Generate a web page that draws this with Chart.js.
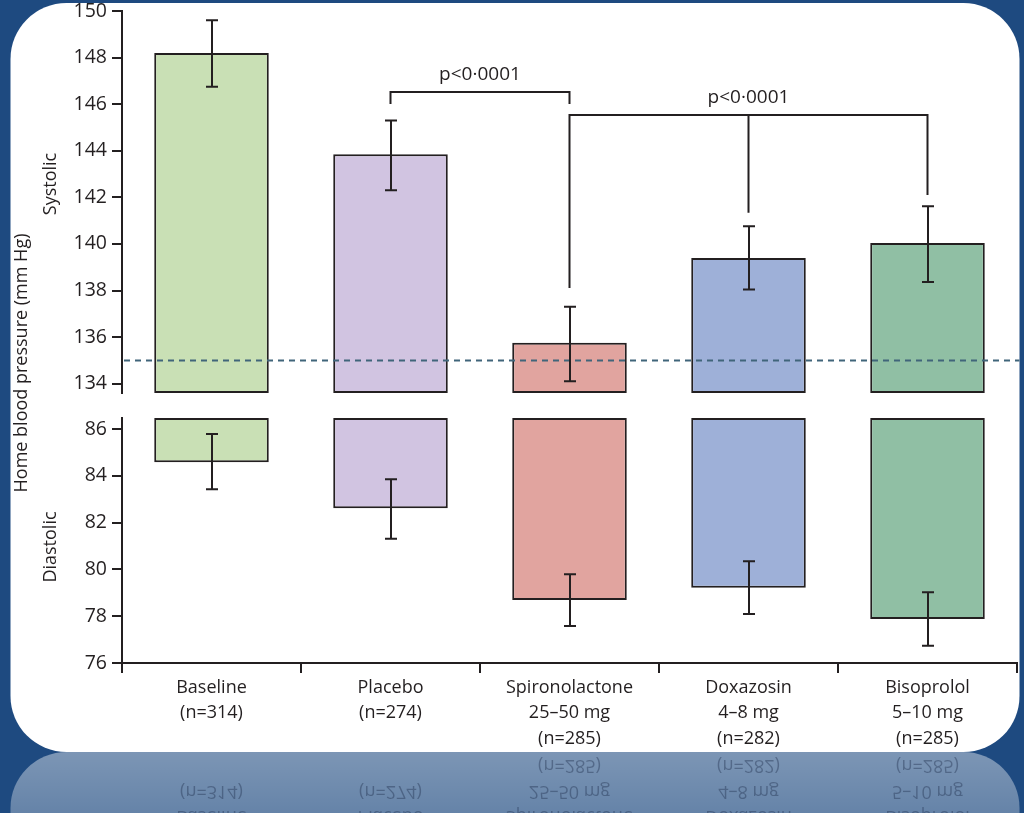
<!DOCTYPE html>
<html>
<head>
<meta charset="utf-8">
<script src="https://cdn.jsdelivr.net/npm/chart.js@4.4.1/dist/chart.umd.min.js"></script>
<style>
html,body{margin:0;padding:0;background:#1e4a80;overflow:hidden}
#wrap{position:relative;width:1024px;height:813px}
canvas{display:block}
</style>
</head>
<body>
<div id="wrap"><canvas id="c" width="1024" height="813"></canvas></div>
<script>
// ---------- data ----------
const categories = [
  ['Baseline', '(n=314)'],
  ['Placebo', '(n=274)'],
  ['Spironolactone', '25–50 mg', '(n=285)'],
  ['Doxazosin', '4–8 mg', '(n=282)'],
  ['Bisoprolol', '5–10 mg', '(n=285)']
];
const systolic      = [148.2, 143.85, 135.76, 139.4, 140.04];
const systolicLow   = [146.75, 142.3, 134.1, 138.04, 138.37];
const systolicHigh  = [149.6, 145.3, 137.3, 140.76, 141.62];
const diastolic     = [84.58, 82.61, 78.69, 79.22, 77.88];
const diastolicLow  = [83.42, 81.31, 77.58, 78.09, 76.74];
const diastolicHigh = [85.79, 83.85, 79.79, 80.35, 79.02];
const systolicRange  = [133.6, 150];
const diastolicRange = [76, 86.47];
const tickStep = 2;
const targetSystolic = 135;
const pLabel = 'p<0·0001';
// comparison brackets: category indices and systolic-scale levels
const bracket1 = { idx: [1, 2], level: 146.52, ends: [146.05, 146.05], labelAt: 1.5 };
const bracket2 = { idx: [2, 3, 4], level: 145.53, ends: [138.15, 141.38, 142.14], labelAt: 3 };

const barColors = ['#c9e0b5', '#d1c4e1', '#e1a49f', '#9eb0d8', '#90bfa4'];
const ink = '#231f20';
const FAMILY = "'Open Sans', 'DejaVu Sans', sans-serif";
Chart.defaults.font.family = FAMILY;
Chart.defaults.font.size = 18;
Chart.defaults.color = ink;

const X_TICK_LEN = 10, X_TICK_PAD = 2, X_FONT = 18, X_LH = 1.42;
const Y_FONT = 19.5;
const PANEL = { x: 10.5, y: 3, w: 1009, h: 749, r: 56 };

function roundRectPath(ctx, x, y, w, h, r) {
  ctx.beginPath();
  ctx.moveTo(x + r, y);
  ctx.lineTo(x + w - r, y);
  ctx.arcTo(x + w, y, x + w, y + r, r);
  ctx.lineTo(x + w, y + h - r);
  ctx.arcTo(x + w, y + h, x + w - r, y + h, r);
  ctx.lineTo(x + r, y + h);
  ctx.arcTo(x, y + h, x, y + h - r, r);
  ctx.lineTo(x, y + r);
  ctx.arcTo(x, y, x + r, y, r);
  ctx.closePath();
}

const backgroundPlugin = {
  id: 'bg',
  beforeDraw(chart) {
    const ctx = chart.ctx;
    ctx.save();
    ctx.fillStyle = '#1e4a80';
    ctx.fillRect(0, 0, chart.width, chart.height);
    // reflection of the panel
    const by = PANEL.y + PANEL.h;
    ctx.save();
    ctx.translate(0, 2 * by);
    ctx.scale(1, -1);
    const g = ctx.createLinearGradient(0, by, 0, by - 70);
    g.addColorStop(0, 'rgba(255,255,255,0.42)');
    g.addColorStop(1, 'rgba(255,255,255,0.30)');
    ctx.fillStyle = g;
    roundRectPath(ctx, PANEL.x, PANEL.y, PANEL.w, PANEL.h, PANEL.r);
    ctx.fill();
    ctx.restore();
    // white panel
    ctx.fillStyle = '#ffffff';
    roundRectPath(ctx, PANEL.x, PANEL.y, PANEL.w, PANEL.h, PANEL.r);
    ctx.fill();
    ctx.restore();
  }
};

const annotationsPlugin = {
  id: 'annot',
  afterDatasetsDraw(chart) {
    const ctx = chart.ctx;
    const xs = chart.scales.x, yS = chart.scales.yS, yD = chart.scales.yD;
    const area = chart.chartArea;
    ctx.save();
    // dashed target line
    ctx.strokeStyle = '#40657a';
    ctx.lineWidth = 2;
    ctx.setLineDash([6, 5]);
    const ty = Math.round(yS.getPixelForValue(targetSystolic)) + 0.5;
    ctx.beginPath();
    ctx.moveTo(area.left + 2, ty);
    ctx.lineTo(PANEL.x + PANEL.w, ty);
    ctx.stroke();
    ctx.setLineDash([]);

    // error bars
    ctx.strokeStyle = ink;
    ctx.lineWidth = 2;
    const cap = 6;
    function errBar(i, lo, hi, sc) {
      const x = Math.round(xs.getPixelForValue(i));
      const y1 = sc.getPixelForValue(lo), y2 = sc.getPixelForValue(hi);
      ctx.beginPath();
      ctx.moveTo(x, y1); ctx.lineTo(x, y2);
      ctx.moveTo(x - cap, y1); ctx.lineTo(x + cap, y1);
      ctx.moveTo(x - cap, y2); ctx.lineTo(x + cap, y2);
      ctx.stroke();
    }
    for (let i = 0; i < categories.length; i++) {
      errBar(i, systolicLow[i], systolicHigh[i], yS);
      errBar(i, diastolicLow[i], diastolicHigh[i], yD);
    }

    // brackets
    function drawBracket(b) {
      const ly = yS.getPixelForValue(b.level);
      const xsArr = b.idx.map(i => xs.getPixelForValue(i));
      ctx.beginPath();
      ctx.moveTo(Math.min(...xsArr), ly);
      ctx.lineTo(Math.max(...xsArr), ly);
      b.idx.forEach((idx, k) => {
        ctx.moveTo(xsArr[k], ly);
        ctx.lineTo(xsArr[k], yS.getPixelForValue(b.ends[k]));
      });
      ctx.lineCap = 'square';
      ctx.stroke();
      ctx.fillStyle = ink;
      ctx.font = `19px ${FAMILY}`;
      ctx.textAlign = 'center';
      ctx.textBaseline = 'alphabetic';
      ctx.fillText(pLabel, xs.getPixelForValue(b.labelAt), ly - 12);
    }
    drawBracket(bracket1);
    drawBracket(bracket2);
    ctx.restore();
  },
  afterDraw(chart) {
    const ctx = chart.ctx;
    const xs = chart.scales.x;
    ctx.save();
    // axis titles
    ctx.fillStyle = ink;
    ctx.textAlign = 'center';
    ctx.textBaseline = 'middle';
    function vText(t, x, y, size) {
      ctx.save();
      ctx.translate(x, y);
      ctx.rotate(-Math.PI / 2);
      ctx.font = `${size}px ${FAMILY}`;
      ctx.fillText(t, 0, 0);
      ctx.restore();
    }
    vText('Home blood pressure (mm Hg)', 22, 363, 18);
    vText('Systolic', 51, 184, 18);
    vText('Diastolic', 51, 547, 18);

    // mirrored reflection of category labels
    const by = PANEL.y + PANEL.h;
    ctx.save();
    ctx.beginPath();
    ctx.rect(0, by, chart.width, chart.height - by);
    ctx.clip();
    ctx.translate(0, 2 * by);
    ctx.scale(1, -1);
    ctx.fillStyle = 'rgba(30,45,75,0.40)';
    ctx.font = `${X_FONT}px ${FAMILY}`;
    ctx.textAlign = 'center';
    ctx.textBaseline = 'middle';
    const lh = X_FONT * X_LH;
    categories.forEach((lines, i) => {
      const x = xs.getPixelForValue(i);
      lines.forEach((ln, j) => {
        const y = xs.top + X_TICK_LEN + X_TICK_PAD + lh * (j + 0.5);
        ctx.fillText(ln, x, y);
      });
    });
    ctx.restore();
    ctx.restore();
  }
};

function yAxis(range, stackWeight, weight) {
  return {
    type: 'linear',
    position: 'left',
    stack: 'bp',
    stackWeight: stackWeight,
    weight: weight,
    min: range[0],
    max: range[1],
    ticks: {
      stepSize: tickStep,
      includeBounds: false,
      color: ink,
      font: { family: FAMILY, size: Y_FONT, lineHeight: 0.5 },
      padding: 5
    },
    grid: { drawOnChartArea: false, drawTicks: true, tickLength: 10, color: ink, lineWidth: 2 },
    border: { display: true, color: ink, width: 2 },
    afterFit: s => { s.width = 112; }
  };
}

new Chart(document.getElementById('c'), {
  type: 'bar',
  data: {
    labels: categories,
    datasets: [
      {
        label: 'Systolic',
        data: systolic.map(v => [systolicRange[0], v]),
        yAxisID: 'yS',
        backgroundColor: barColors,
        borderColor: ink,
        borderWidth: 2,
        borderSkipped: false,
        grouped: false,
        barPercentage: 0.64,
        categoryPercentage: 1
      },
      {
        label: 'Diastolic',
        data: diastolic.map(v => [v, diastolicRange[1]]),
        yAxisID: 'yD',
        backgroundColor: barColors,
        borderColor: ink,
        borderWidth: 2,
        borderSkipped: false,
        grouped: false,
        barPercentage: 0.64,
        categoryPercentage: 1
      }
    ]
  },
  options: {
    responsive: false,
    animation: false,
    devicePixelRatio: 1,
    layout: { padding: { left: 10, right: 7, top: 11, bottom: 60 } },
    plugins: { legend: { display: false }, tooltip: { enabled: false }, title: { display: false } },
    scales: {
      x: {
        type: 'category',
        grid: { display: true, drawOnChartArea: false, drawTicks: true, tickLength: X_TICK_LEN, color: ink, lineWidth: 2, offset: true },
        border: { display: true, color: ink, width: 2 },
        ticks: { color: ink, font: { family: FAMILY, size: X_FONT, lineHeight: X_LH }, padding: X_TICK_PAD, maxRotation: 0, autoSkip: false },
        afterFit: s => { s.height = 90; }
      },
      yS: yAxis(systolicRange, 382, 3),
      yG: {
        type: 'linear', position: 'left', stack: 'bp', stackWeight: 25, weight: 2, min: 0, max: 1,
        ticks: { display: false }, grid: { display: false }, border: { display: false },
        afterFit: s => { s.width = 112; }
      },
      yD: yAxis(diastolicRange, 245, 1)
    }
  },
  plugins: [backgroundPlugin, annotationsPlugin]
});
</script>
</body>
</html>
